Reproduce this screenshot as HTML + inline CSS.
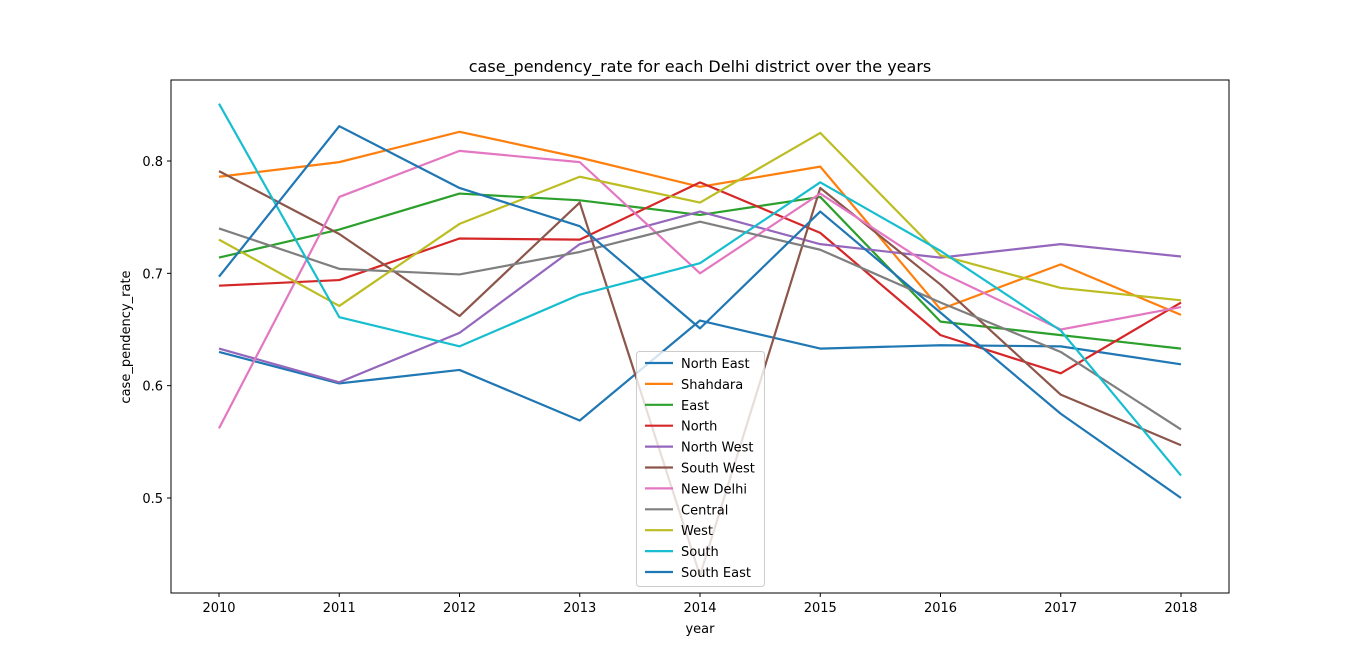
<!DOCTYPE html>
<html><head><meta charset="utf-8"><style>
body{margin:0;background:#fff;font-family:"Liberation Sans","DejaVu Sans",sans-serif;}
svg text{font-family:"DejaVu Sans","Liberation Sans",sans-serif;fill:#000;}
</style></head><body>
<svg id="chart" width="1366" height="666" xmlns="http://www.w3.org/2000/svg"></svg>
<script>
const years = [2010,2011,2012,2013,2014,2015,2016,2017,2018];
const yTicks = [0.5,0.6,0.7,0.8];
const names = ["North East","Shahdara","East","North","North West","South West","New Delhi","Central","West","South","South East"];
const colors = ["#1f77b4","#ff7f0e","#2ca02c","#d62728","#9467bd","#8c564b","#e377c2","#7f7f7f","#bcbd22","#17becf","#1f77b4"];
const northEast = [0.630,0.602,0.614,0.569,0.658,0.633,0.636,0.635,0.619];
const shahdara = [0.786,0.799,0.826,0.803,0.777,0.795,0.668,0.708,0.663];
const east = [0.714,0.739,0.771,0.765,0.752,0.768,0.657,0.645,0.633];
const north = [0.689,0.694,0.731,0.730,0.781,0.736,0.645,0.611,0.674];
const northWest = [0.633,0.603,0.647,0.726,0.755,0.726,0.714,0.726,0.715];
const southWest = [0.791,0.735,0.662,0.763,0.431,0.776,0.690,0.592,0.547];
const newDelhi = [0.562,0.768,0.809,0.799,0.700,0.771,0.701,0.650,0.670];
const central = [0.740,0.704,0.699,0.719,0.746,0.721,0.674,0.630,0.561];
const west = [0.730,0.671,0.744,0.786,0.763,0.825,0.716,0.687,0.676];
const south = [0.851,0.661,0.635,0.681,0.709,0.781,0.720,0.649,0.520];
const southEast = [0.697,0.831,0.776,0.742,0.651,0.755,0.665,0.575,0.500];
const series = [northEast,shahdara,east,north,northWest,southWest,newDelhi,central,west,south,southEast];

const svg = document.getElementById('chart');
const NS = "http://www.w3.org/2000/svg";
const L=171,R=1229,T=80,B=593;
const x = yr => 219 + (yr-2010)*(1181-219)/8;
const y = v => 498 - (v-0.5)*(498-161)/0.3;
function mk(tag, attrs, parent){const e=document.createElementNS(NS,tag);for(const k in attrs)e.setAttribute(k,attrs[k]);(parent||svg).appendChild(e);return e;}

const title = mk('text',{x:700,y:72,'text-anchor':'middle','font-size':16});
title.textContent = "case_pendency_rate for each Delhi district over the years";



years.forEach(yr=>{
  const g = mk('g',{});
  
  
  mk('line',{x1:x(yr),x2:x(yr),y1:B,y2:B+4,stroke:'#000'},g);
  const t = mk('text',{x:x(yr),y:B+19,'text-anchor':'middle','font-size':13},g);
  t.textContent = yr;
});
yTicks.forEach(v=>{
  const g = mk('g',{});
  
  
  mk('line',{x1:L-4,x2:L,y1:y(v),y2:y(v),stroke:'#000'},g);
  const t = mk('text',{x:L-8,y:y(v)+5,'text-anchor':'end','font-size':13},g);
  t.textContent = v.toFixed(1);
});
const xl = mk('text',{x:700,y:633,'text-anchor':'middle','font-size':13});
xl.textContent='year';


const yl = mk('text',{x:130,y:337,'text-anchor':'middle','font-size':13,transform:'rotate(-90 130 337)'});
yl.textContent='case_pendency_rate';



series.forEach((s,i)=>{
  const p = mk('polyline',{points:s.map((v,j)=>x(years[j])+','+y(v)).join(' '),fill:'none',stroke:colors[i],'stroke-width':2.2,'stroke-linejoin':'round'});
  
  
});

const frame = mk('rect',{x:L,y:T,width:R-L,height:B-T,fill:'none',stroke:'#000','stroke-width':1});



const lg = mk('g',{});


mk('rect',{x:636.5,y:351.5,width:128,height:235,rx:3,fill:'#fff','fill-opacity':0.8,stroke:'#ccc'},lg);
names.forEach((n,i)=>{
  const g = mk('g',{},lg);
  
  
  const yy = 363 + i*20.9;
  mk('line',{x1:645,x2:673,y1:yy,y2:yy,stroke:colors[i],'stroke-width':2.2},g);
  const t = mk('text',{x:681,y:yy+5,'font-size':13},g);
  t.textContent = n;
});
</script>
</body></html>
